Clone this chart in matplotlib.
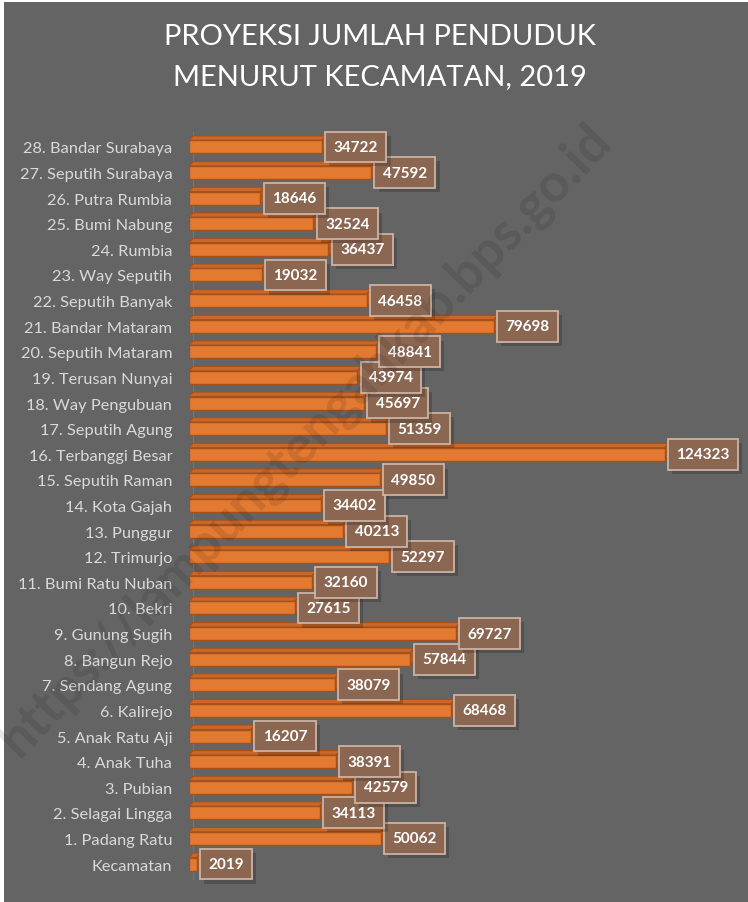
import matplotlib
matplotlib.use("Agg")
import matplotlib.pyplot as plt
from matplotlib.patches import Polygon, Rectangle
import matplotlib.patheffects as pe
import numpy as np

categories = [
    "Kecamatan", "1. Padang Ratu", "2. Selagai Lingga", "3. Pubian", "4. Anak Tuha",
    "5. Anak Ratu Aji", "6. Kalirejo", "7. Sendang Agung", "8. Bangun Rejo",
    "9. Gunung Sugih", "10. Bekri", "11. Bumi Ratu Nuban", "12. Trimurjo",
    "13. Punggur", "14. Kota Gajah", "15. Seputih Raman", "16. Terbanggi Besar",
    "17. Seputih Agung", "18. Way Pengubuan", "19. Terusan Nunyai",
    "20. Seputih Mataram", "21. Bandar Mataram", "22. Seputih Banyak",
    "23. Way Seputih", "24. Rumbia", "25. Bumi Nabung", "26. Putra Rumbia",
    "27. Seputih Surabaya", "28. Bandar Surabaya",
]
values = [
    2019, 50062, 34113, 42579, 38391, 16207, 68468, 38079, 57844, 69727,
    27615, 32160, 52297, 40213, 34402, 49850, 124323, 51359, 45697, 43974,
    48841, 79698, 46458, 19032, 36437, 32524, 18646, 47592, 34722,
]
title = "PROYEKSI JUMLAH PENDUDUK\nMENURUT KECAMATAN, 2019"
watermark = "https://lampungtengahkab.bps.go.id"

W, H, DPI = 748, 903, 100
plt.rcParams['font.family'] = ['Lato', 'DejaVu Sans']

fig = plt.figure(figsize=(W / DPI, H / DPI), dpi=DPI, facecolor="white")
fig.patches.append(Rectangle((4 / W, 0), 1, 1 - 3 / H, transform=fig.transFigure,
                             facecolor="#646464", edgecolor="none", zorder=-10))

ax_left, ax_right = 189, 740
ax_top, ax_bot = 130, 883
ax = fig.add_axes([ax_left / W, (H - ax_bot) / H, (ax_right - ax_left) / W, (ax_bot - ax_top) / H])
ax.set_facecolor("none")
xmax = 144000
ax.set_xlim(0, xmax)
ax.set_ylim(-0.7, 28.7)

ppx = (ax_right - ax_left) / xmax            # pixels per data unit (x)
ppy = (ax_bot - ax_top) / (28.7 + 0.7)       # pixels per row (y)
dx = 4 / ppx
dy = 4.5 / ppy
h = 13 / ppy

face = "#E27A32"
edge = "#A4501A"
top_c = "#C9662A"
side_c = "#B35A22"

ypos = np.arange(len(categories))
ax.barh(ypos, values, height=h, color=face, edgecolor=edge, linewidth=1.0, zorder=3)
for y, v in zip(ypos, values):
    yt = y + h / 2
    yb = y - h / 2
    ax.add_patch(Polygon([(0, yt), (v, yt), (v + dx, yt + dy), (dx, yt + dy)],
                         closed=True, facecolor=top_c, edgecolor=edge, linewidth=0.8, zorder=2))
    ax.add_patch(Polygon([(v, yb), (v + dx, yb + dy), (v + dx, yt + dy), (v, yt)],
                         closed=True, facecolor=side_c, edgecolor=edge, linewidth=0.8, zorder=2))
    t = ax.annotate(f"{v}", xy=(v, y), xytext=(8.4, 0), textcoords="offset points",
                    ha="left", va="center", fontsize=11, fontweight="bold", color="white",
                    bbox=dict(boxstyle="square,pad=0.55", fc="#8B6651", ec="#CBB3A5", lw=1.3),
                    zorder=5, annotation_clip=False)
    t.get_bbox_patch().set_path_effects([
        pe.SimplePatchShadow(offset=(3, -3), shadow_rgbFace="black", alpha=0.18),
        pe.Normal(),
    ])

ax.set_yticks(ypos)
ax.set_yticklabels(categories, fontsize=11.8, color="#D9D9D9")
ax.tick_params(axis="y", length=0, pad=12)
ax.set_xticks([])
for s in ax.spines.values():
    s.set_visible(False)
ax.plot([dx, dx], [-0.6, 28.6], color="#767676", lw=0.8, zorder=1)

fig.text(380 / W, 1 - 57 / H, title, ha="center", va="center", color="white",
         fontsize=21, fontweight="normal", linespacing=1.7)

fig.text(305 / W, 1 - 440 / H, watermark, ha="center", va="center", rotation=46,
         fontsize=38, fontweight="bold", color="black", alpha=0.10, zorder=10)

fig.savefig("out.png", dpi=DPI, facecolor=fig.get_facecolor())
